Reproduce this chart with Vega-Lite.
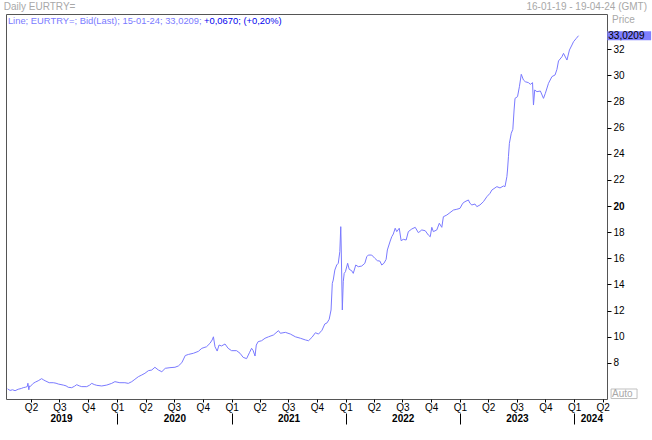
{
  "$schema": "https://vega.github.io/schema/vega-lite/v6.json",
  "width": 601,
  "height": 385,
  "autosize": {"type": "none"},
  "padding": {"left": 6, "top": 14, "right": 45, "bottom": 41},
  "background": "white",
  "config": {
    "view": {"stroke": "#555555", "strokeWidth": 1},
    "font": "Liberation Sans",
    "text": {"font": "Liberation Sans", "fontSize": 10},
    "axis": {"labelFont": "Liberation Sans", "labelFontSize": 10, "labelColor": "#000000", "tickColor": "#000000", "grid": false, "domain": false, "title": null, "labelOverlap": false, "labelFlush": false, "labelBound": false}
  },
  "datasets": {
    "fx": [
      {"date": "2019-01-16", "value": 6.02}, {"date": "2019-01-24", "value": 5.9}, {"date": "2019-02-01", "value": 5.95}, {"date": "2019-02-09", "value": 5.88}, {"date": "2019-02-19", "value": 5.99}, {"date": "2019-03-01", "value": 6.05}, {"date": "2019-03-07", "value": 6.11}, {"date": "2019-03-15", "value": 6.15}, {"date": "2019-03-20", "value": 6.2}, {"date": "2019-03-22", "value": 6.45}, {"date": "2019-03-25", "value": 5.95}, {"date": "2019-03-27", "value": 6.25}, {"date": "2019-03-29", "value": 6.19}, {"date": "2019-04-08", "value": 6.44}, {"date": "2019-04-16", "value": 6.55}, {"date": "2019-04-24", "value": 6.64}, {"date": "2019-05-05", "value": 6.8}, {"date": "2019-05-10", "value": 6.72}, {"date": "2019-05-16", "value": 6.64}, {"date": "2019-05-29", "value": 6.49}, {"date": "2019-06-11", "value": 6.49}, {"date": "2019-06-20", "value": 6.45}, {"date": "2019-06-27", "value": 6.39}, {"date": "2019-07-13", "value": 6.31}, {"date": "2019-07-22", "value": 6.25}, {"date": "2019-07-29", "value": 6.14}, {"date": "2019-08-09", "value": 6.11}, {"date": "2019-08-18", "value": 6.22}, {"date": "2019-08-25", "value": 6.34}, {"date": "2019-09-02", "value": 6.25}, {"date": "2019-09-10", "value": 6.19}, {"date": "2019-09-26", "value": 6.19}, {"date": "2019-10-05", "value": 6.3}, {"date": "2019-10-12", "value": 6.44}, {"date": "2019-10-20", "value": 6.35}, {"date": "2019-10-28", "value": 6.29}, {"date": "2019-11-13", "value": 6.24}, {"date": "2019-11-29", "value": 6.31}, {"date": "2019-12-15", "value": 6.44}, {"date": "2019-12-25", "value": 6.57},
      {"date": "2020-01-10", "value": 6.49}, {"date": "2020-01-26", "value": 6.49}, {"date": "2020-02-06", "value": 6.44}, {"date": "2020-02-17", "value": 6.57}, {"date": "2020-02-27", "value": 6.75}, {"date": "2020-03-09", "value": 6.95}, {"date": "2020-03-20", "value": 7.08}, {"date": "2020-03-30", "value": 7.21}, {"date": "2020-04-10", "value": 7.41}, {"date": "2020-04-21", "value": 7.46}, {"date": "2020-05-01", "value": 7.67}, {"date": "2020-05-12", "value": 7.46}, {"date": "2020-05-23", "value": 7.33}, {"date": "2020-06-03", "value": 7.59}, {"date": "2020-06-18", "value": 7.64}, {"date": "2020-07-04", "value": 7.67}, {"date": "2020-07-15", "value": 7.77}, {"date": "2020-07-26", "value": 8.02}, {"date": "2020-08-06", "value": 8.57}, {"date": "2020-08-16", "value": 8.65}, {"date": "2020-09-01", "value": 8.74}, {"date": "2020-09-17", "value": 8.89}, {"date": "2020-09-28", "value": 9.12}, {"date": "2020-10-13", "value": 9.24}, {"date": "2020-10-24", "value": 9.5}, {"date": "2020-10-31", "value": 9.76}, {"date": "2020-11-04", "value": 10.0}, {"date": "2020-11-09", "value": 9.24}, {"date": "2020-11-16", "value": 8.91}, {"date": "2020-11-22", "value": 9.37}, {"date": "2020-11-30", "value": 9.3}, {"date": "2020-12-11", "value": 9.45}, {"date": "2020-12-21", "value": 9.12},
      {"date": "2021-01-01", "value": 8.94}, {"date": "2021-01-17", "value": 8.94}, {"date": "2021-01-28", "value": 8.74}, {"date": "2021-02-07", "value": 8.43}, {"date": "2021-02-18", "value": 8.33}, {"date": "2021-02-27", "value": 8.78}, {"date": "2021-03-06", "value": 9.12}, {"date": "2021-03-11", "value": 8.94}, {"date": "2021-03-17", "value": 8.53}, {"date": "2021-03-21", "value": 9.37}, {"date": "2021-03-27", "value": 9.63}, {"date": "2021-04-07", "value": 9.7}, {"date": "2021-04-18", "value": 9.89}, {"date": "2021-04-29", "value": 10.0}, {"date": "2021-05-15", "value": 10.14}, {"date": "2021-05-31", "value": 10.47}, {"date": "2021-06-06", "value": 10.27}, {"date": "2021-06-22", "value": 10.34}, {"date": "2021-07-08", "value": 10.21}, {"date": "2021-07-24", "value": 10.0}, {"date": "2021-08-09", "value": 9.89}, {"date": "2021-08-25", "value": 9.76}, {"date": "2021-09-04", "value": 9.7}, {"date": "2021-09-15", "value": 9.96}, {"date": "2021-09-26", "value": 10.31}, {"date": "2021-10-06", "value": 10.21}, {"date": "2021-10-17", "value": 10.5}, {"date": "2021-10-26", "value": 10.98}, {"date": "2021-11-02", "value": 11.06}, {"date": "2021-11-09", "value": 11.34}, {"date": "2021-11-15", "value": 12.05}, {"date": "2021-11-19", "value": 14.09}, {"date": "2021-11-22", "value": 14.34}, {"date": "2021-11-27", "value": 15.1}, {"date": "2021-12-03", "value": 15.49}, {"date": "2021-12-08", "value": 15.62}, {"date": "2021-12-13", "value": 16.51}, {"date": "2021-12-16", "value": 18.42}, {"date": "2021-12-17", "value": 17.4}, {"date": "2021-12-21", "value": 12.05}, {"date": "2021-12-24", "value": 14.21}, {"date": "2021-12-27", "value": 14.85}, {"date": "2021-12-31", "value": 14.98},
      {"date": "2022-01-07", "value": 15.62}, {"date": "2022-01-12", "value": 15.16}, {"date": "2022-01-20", "value": 15.05}, {"date": "2022-01-25", "value": 14.85}, {"date": "2022-02-02", "value": 15.49}, {"date": "2022-02-10", "value": 15.36}, {"date": "2022-02-21", "value": 15.41}, {"date": "2022-03-03", "value": 15.62}, {"date": "2022-03-09", "value": 16.12}, {"date": "2022-03-14", "value": 16.25}, {"date": "2022-03-25", "value": 16.25}, {"date": "2022-04-04", "value": 16.0}, {"date": "2022-04-12", "value": 15.82}, {"date": "2022-04-20", "value": 15.79}, {"date": "2022-04-26", "value": 15.49}, {"date": "2022-05-03", "value": 15.62}, {"date": "2022-05-10", "value": 15.92}, {"date": "2022-05-14", "value": 16.64}, {"date": "2022-05-23", "value": 17.32}, {"date": "2022-05-28", "value": 17.65}, {"date": "2022-06-02", "value": 17.86}, {"date": "2022-06-08", "value": 18.3}, {"date": "2022-06-13", "value": 18.04}, {"date": "2022-06-21", "value": 18.3}, {"date": "2022-06-27", "value": 17.35}, {"date": "2022-07-04", "value": 17.45}, {"date": "2022-07-13", "value": 17.4}, {"date": "2022-07-20", "value": 18.04}, {"date": "2022-07-31", "value": 18.24}, {"date": "2022-08-11", "value": 18.37}, {"date": "2022-08-21", "value": 17.96}, {"date": "2022-09-01", "value": 18.17}, {"date": "2022-09-12", "value": 18.11}, {"date": "2022-09-22", "value": 17.78}, {"date": "2022-09-28", "value": 17.65}, {"date": "2022-10-03", "value": 18.37}, {"date": "2022-10-08", "value": 18.04}, {"date": "2022-10-19", "value": 18.17}, {"date": "2022-10-27", "value": 18.68}, {"date": "2022-11-04", "value": 18.37}, {"date": "2022-11-09", "value": 19.18}, {"date": "2022-11-20", "value": 19.31}, {"date": "2022-11-30", "value": 19.49}, {"date": "2022-12-11", "value": 19.69}, {"date": "2022-12-22", "value": 19.75},
      {"date": "2023-01-01", "value": 19.82}, {"date": "2023-01-10", "value": 20.21}, {"date": "2023-01-17", "value": 20.33}, {"date": "2023-01-28", "value": 20.46}, {"date": "2023-02-02", "value": 20.21}, {"date": "2023-02-08", "value": 20.08}, {"date": "2023-02-18", "value": 20.15}, {"date": "2023-02-24", "value": 19.95}, {"date": "2023-03-06", "value": 20.08}, {"date": "2023-03-17", "value": 20.33}, {"date": "2023-03-28", "value": 20.71}, {"date": "2023-04-07", "value": 20.97}, {"date": "2023-04-13", "value": 21.22}, {"date": "2023-04-29", "value": 21.48}, {"date": "2023-05-09", "value": 21.38}, {"date": "2023-05-20", "value": 21.53}, {"date": "2023-05-25", "value": 21.48}, {"date": "2023-05-31", "value": 22.24}, {"date": "2023-06-02", "value": 22.75}, {"date": "2023-06-05", "value": 23.77}, {"date": "2023-06-08", "value": 24.79}, {"date": "2023-06-14", "value": 25.56}, {"date": "2023-06-19", "value": 25.86}, {"date": "2023-06-23", "value": 27.34}, {"date": "2023-06-26", "value": 28.23}, {"date": "2023-07-04", "value": 28.36}, {"date": "2023-07-10", "value": 29.12}, {"date": "2023-07-16", "value": 30.07}, {"date": "2023-07-23", "value": 29.63}, {"date": "2023-07-29", "value": 29.5}, {"date": "2023-08-08", "value": 29.43}, {"date": "2023-08-14", "value": 29.3}, {"date": "2023-08-21", "value": 29.43}, {"date": "2023-08-24", "value": 27.72}, {"date": "2023-08-28", "value": 28.87}, {"date": "2023-09-04", "value": 28.74}, {"date": "2023-09-15", "value": 28.79}, {"date": "2023-09-25", "value": 28.23}, {"date": "2023-10-01", "value": 28.62}, {"date": "2023-10-11", "value": 29.38}, {"date": "2023-10-22", "value": 29.89}, {"date": "2023-11-01", "value": 30.02}, {"date": "2023-11-07", "value": 30.45}, {"date": "2023-11-12", "value": 31.09}, {"date": "2023-11-23", "value": 31.41}, {"date": "2023-11-28", "value": 31.67}, {"date": "2023-12-09", "value": 31.16}, {"date": "2023-12-17", "value": 31.93}, {"date": "2023-12-25", "value": 32.31}, {"date": "2023-12-30", "value": 32.56}, {"date": "2024-01-08", "value": 32.82}, {"date": "2024-01-15", "value": 33.0209}
    ],
    "notes": [
      {"key": "title", "date": "2019-01-04", "value": 35.21, "text": "Daily EURTRY="},
      {"key": "range", "date": "2024-08-21", "value": 35.21, "text": "16-01-19 - 19-04-24 (GMT)"},
      {"key": "legend1", "date": "2019-01-17", "value": 34.18, "text": "Line; EURTRY=; Bid(Last); 15-01-24; 33,0209;"},
      {"key": "legend2", "date": "2020-10-05", "value": 34.18, "text": "+0,0670; (+0,20%)"},
      {"key": "price", "date": "2024-05-01", "value": 34.22, "text": "Price"},
      {"key": "auto", "date": "2024-05-01", "value": 5.665, "text": "Auto"}
    ],
    "boxes": [
      {"key": "last", "date": "2024-04-16", "date2": "2024-09-03", "value": 32.68, "value2": 33.36},
      {"key": "auto", "date": "2024-04-28", "date2": "2024-07-20", "value": 5.28, "value2": 6.01}
    ],
    "last": [
      {"date": "2024-04-16", "value": 33.0209, "text": "33,0209"}
    ]
  },
  "encoding": {
    "x": {
      "field": "date", "type": "temporal",
      "scale": {"type": "utc", "domain": [{"year": 2019, "month": 1, "date": 11, "utc": true}, {"year": 2024, "month": 4, "date": 15, "utc": true}]},
      "axis": null
    },
    "y": {
      "field": "value", "type": "quantitative",
      "scale": {"domain": [5.2446, 34.679], "nice": false, "zero": false},
      "axis": {
        "orient": "right",
        "values": [8, 10, 12, 14, 16, 18, 20, 22, 24, 26, 28, 30, 32],
        "labelOverlap": false,
        "tickSize": 4, "labelPadding": 2, "labelBaseline": "middle",
        "labelFontWeight": {"condition": {"test": "datum.value == 20", "value": "bold"}, "value": "normal"}
      }
    }
  },
  "layer": [
    {
      "data": {"name": "fx"},
      "mark": {"type": "line", "color": "#7a7aff", "strokeWidth": 1},
      "encoding": {
        "x": {
          "field": "date", "type": "temporal",
          "scale": {"type": "utc", "domain": [{"year": 2019, "month": 1, "date": 11, "utc": true}, {"year": 2024, "month": 4, "date": 15, "utc": true}]},
          "axis": {
            "orient": "bottom",
            "values": [
              {"year": 2019, "month": 4, "date": 1, "utc": true}, {"year": 2019, "month": 7, "date": 1, "utc": true}, {"year": 2019, "month": 10, "date": 1, "utc": true},
              {"year": 2020, "month": 1, "date": 1, "utc": true}, {"year": 2020, "month": 4, "date": 1, "utc": true}, {"year": 2020, "month": 7, "date": 1, "utc": true}, {"year": 2020, "month": 10, "date": 1, "utc": true},
              {"year": 2021, "month": 1, "date": 1, "utc": true}, {"year": 2021, "month": 4, "date": 1, "utc": true}, {"year": 2021, "month": 7, "date": 1, "utc": true}, {"year": 2021, "month": 10, "date": 1, "utc": true},
              {"year": 2022, "month": 1, "date": 1, "utc": true}, {"year": 2022, "month": 4, "date": 1, "utc": true}, {"year": 2022, "month": 7, "date": 1, "utc": true}, {"year": 2022, "month": 10, "date": 1, "utc": true},
              {"year": 2023, "month": 1, "date": 1, "utc": true}, {"year": 2023, "month": 4, "date": 1, "utc": true}, {"year": 2023, "month": 7, "date": 1, "utc": true}, {"year": 2023, "month": 10, "date": 1, "utc": true},
              {"year": 2024, "month": 1, "date": 1, "utc": true}, {"year": 2024, "month": 4, "date": 1, "utc": true}
            ],
            "labelExpr": "'Q' + utcquarter(datum.value)",
            "tickSize": 3, "labelPadding": 0
          }
        }
      }
    },
    {
      "data": {"name": "fx"},
      "mark": {"type": "line", "opacity": 0},
      "encoding": {
        "x": {
          "field": "date", "type": "temporal",
          "axis": {
            "orient": "bottom",
            "values": [{"year": 2020, "month": 1, "date": 1, "utc": true}, {"year": 2021, "month": 1, "date": 1, "utc": true}, {"year": 2022, "month": 1, "date": 1, "utc": true}, {"year": 2023, "month": 1, "date": 1, "utc": true}, {"year": 2024, "month": 1, "date": 1, "utc": true}],
            "labels": false, "tickSize": 11, "offset": 14
          }
        }
      }
    },
    {
      "data": {"name": "fx"},
      "mark": {"type": "line", "opacity": 0},
      "encoding": {
        "x": {
          "field": "date", "type": "temporal",
          "axis": {
            "orient": "bottom",
            "values": [{"year": 2019, "month": 7, "date": 6, "utc": true}, {"year": 2020, "month": 7, "date": 2, "utc": true}, {"year": 2021, "month": 7, "date": 2, "utc": true}, {"year": 2022, "month": 7, "date": 2, "utc": true}, {"year": 2023, "month": 7, "date": 2, "utc": true}, {"year": 2024, "month": 2, "date": 25, "utc": true}],
            "labelExpr": "'' + utcyear(datum.value)",
            "ticks": false, "tickSize": 0, "offset": 14, "labelPadding": 0, "labelFontWeight": "bold"
          }
        }
      }
    },
    {
      "data": {"name": "boxes"},
      "transform": [{"filter": "datum.key == 'last'"}],
      "mark": {"type": "rect", "color": "#8080ff"},
      "encoding": {"x2": {"field": "date2"}, "y2": {"field": "value2"}}
    },
    {
      "data": {"name": "boxes"},
      "transform": [{"filter": "datum.key == 'auto'"}],
      "mark": {"type": "rect", "fill": "white", "stroke": "#c0c0c0", "strokeWidth": 1},
      "encoding": {"x2": {"field": "date2"}, "y2": {"field": "value2"}}
    },
    {
      "data": {"name": "last"},
      "mark": {"type": "text", "align": "left", "baseline": "middle", "color": "#000000", "fontSize": 10, "dx": 1},
      "encoding": {"text": {"field": "text"}}
    },
    {
      "data": {"name": "notes"},
      "transform": [{"filter": "datum.key == 'title' || datum.key == 'price' || datum.key == 'auto'"}],
      "mark": {"type": "text", "align": "left", "baseline": "middle", "color": "#a8a8a8", "fontSize": 10},
      "encoding": {"text": {"field": "text"}}
    },
    {
      "data": {"name": "notes"},
      "transform": [{"filter": "datum.key == 'range'"}],
      "mark": {"type": "text", "align": "right", "baseline": "middle", "color": "#a8a8a8", "fontSize": 10},
      "encoding": {"text": {"field": "text"}}
    },
    {
      "data": {"name": "notes"},
      "transform": [{"filter": "datum.key == 'legend1'"}],
      "mark": {"type": "text", "align": "left", "baseline": "middle", "color": "#7a7aff", "fontSize": 9.4},
      "encoding": {"text": {"field": "text"}}
    },
    {
      "data": {"name": "notes"},
      "transform": [{"filter": "datum.key == 'legend2'"}],
      "mark": {"type": "text", "align": "left", "baseline": "middle", "color": "#0000ee", "fontSize": 9.4},
      "encoding": {"text": {"field": "text"}}
    }
  ],
  "resolve": {"axis": {"x": "independent"}}
}
